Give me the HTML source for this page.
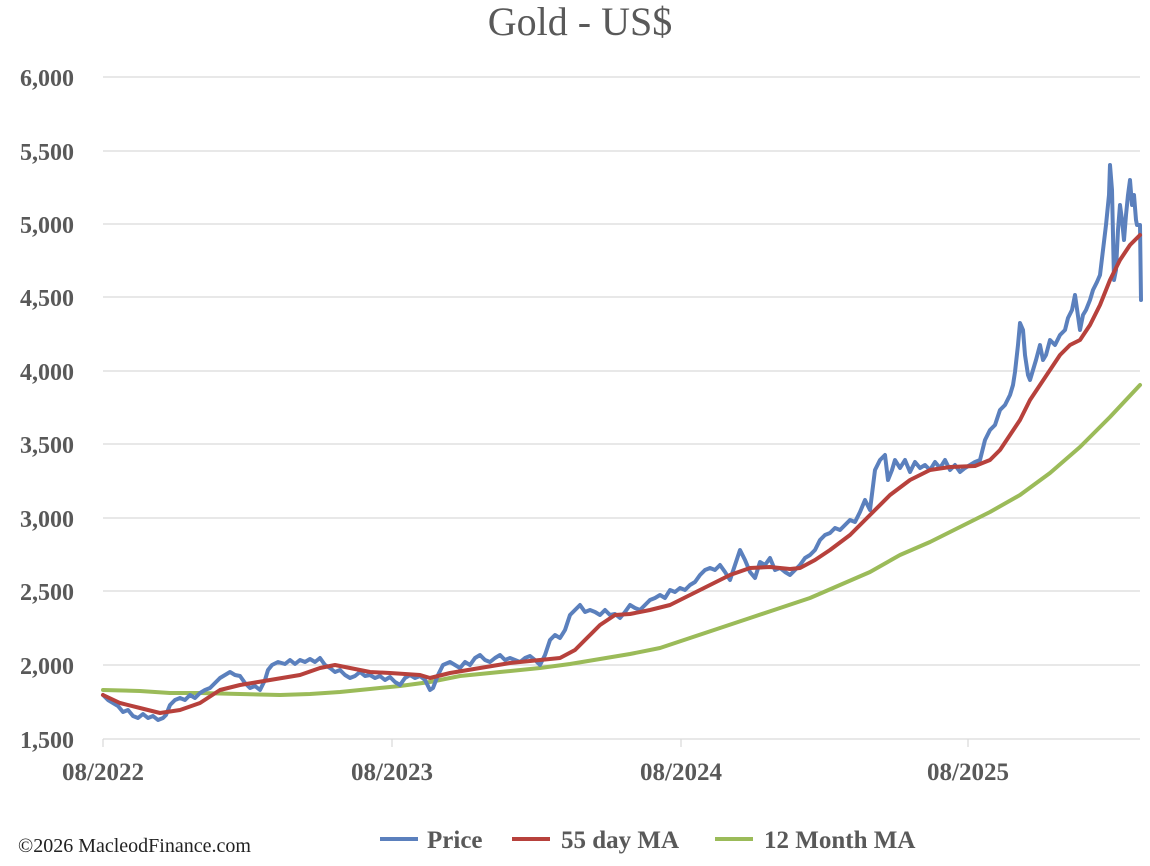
<!DOCTYPE html>
<html><head><meta charset="utf-8"><style>
html,body{margin:0;padding:0;background:#fff;}
svg{display:block;font-family:"Liberation Serif",serif;}
</style></head><body>
<svg width="1150" height="866" viewBox="0 0 1150 866" xmlns="http://www.w3.org/2000/svg">
<rect width="1150" height="866" fill="#fff"/>
<text x="580" y="35" font-size="40" fill="#595959" text-anchor="middle">Gold - US$</text>
<g stroke="#d9d9d9" stroke-width="1.2">
<line x1="103" x2="1140" y1="77" y2="77"/><line x1="103" x2="1140" y1="151" y2="151"/>
<line x1="103" x2="1140" y1="224" y2="224"/><line x1="103" x2="1140" y1="297" y2="297"/>
<line x1="103" x2="1140" y1="371" y2="371"/><line x1="103" x2="1140" y1="444" y2="444"/>
<line x1="103" x2="1140" y1="518" y2="518"/><line x1="103" x2="1140" y1="591" y2="591"/>
<line x1="103" x2="1140" y1="665" y2="665"/><line x1="103" x2="1140" y1="739" y2="739"/>
<line x1="103" x2="103" y1="739" y2="747"/><line x1="392" x2="392" y1="739" y2="747"/>
<line x1="681" x2="681" y1="739" y2="747"/><line x1="968" x2="968" y1="739" y2="747"/>
</g>
<g font-size="24" font-weight="bold" fill="#595959" text-anchor="end">
<text x="74" y="86">6,000</text><text x="74" y="160">5,500</text><text x="74" y="233">5,000</text>
<text x="74" y="306">4,500</text><text x="74" y="380">4,000</text><text x="74" y="453">3,500</text>
<text x="74" y="527">3,000</text><text x="74" y="600">2,500</text><text x="74" y="674">2,000</text>
<text x="74" y="748">1,500</text>
</g>
<g font-size="25" font-weight="bold" fill="#595959" text-anchor="middle">
<text x="103" y="780">08/2022</text><text x="392" y="780">08/2023</text>
<text x="681" y="780">08/2024</text><text x="968" y="780">08/2025</text>
</g>
<g fill="none" stroke-width="4" stroke-linejoin="round" stroke-linecap="round">
<polyline stroke="#9bbb59" points="103,690 140,691 170,693 200,693 240,694 280,695 310,694 340,692 370,689 400,686 430,682 460,676 500,672 540,668 570,664 600,659 630,654 660,648 690,638 720,628 750,618 780,608 810,598 840,585 870,572 900,555 930,542 960,527 990,512 1020,495 1050,473 1080,447 1110,417 1140,385"/>
<polyline stroke="#5b80bd" points="103,695 108,700 113,703 118,706 123,712 128,710 133,716 138,718 143,714 148,718 153,716 158,720 163,718 166,715 170,705 175,700 180,698 185,700 190,695 195,698 200,693 205,690 210,688 215,683 220,678 225,675 230,672 235,675 240,676 245,683 250,688 255,686 260,690 265,680 268,670 272,665 278,662 285,664 290,660 295,664 300,660 305,662 310,659 315,662 320,658 325,665 330,668 335,672 340,670 345,675 350,678 355,676 360,672 365,676 370,675 375,678 380,676 385,680 390,677 395,682 400,685 405,678 410,675 415,678 420,676 425,680 430,690 433,688 438,675 443,665 450,662 455,665 460,668 465,662 470,665 475,658 480,655 485,660 490,662 495,658 500,655 505,660 510,658 515,660 520,662 525,658 530,656 535,660 540,665 545,655 550,640 555,635 560,638 565,630 570,615 575,610 580,605 585,612 590,610 595,612 600,615 605,610 610,615 615,614 620,618 625,612 630,605 635,608 640,610 645,605 650,600 655,598 660,595 665,598 670,590 675,592 680,588 685,590 690,585 695,582 700,575 705,570 710,568 715,570 720,565 725,572 730,580 735,565 740,550 745,560 750,572 755,578 760,562 765,565 770,558 775,570 780,568 785,572 790,575 795,570 800,565 805,558 810,555 815,550 820,540 825,535 830,533 835,528 840,530 845,525 850,520 855,522 860,512 865,500 870,510 875,470 880,460 885,455 888,480 892,470 895,460 900,468 905,460 910,472 915,462 920,468 925,465 930,470 935,462 940,468 945,460 950,470 955,465 960,472 965,468 970,465 975,462 980,460 985,440 990,430 995,425 1000,410 1005,405 1010,395 1013,385 1015,372 1018,345 1020,323 1023,330 1025,355 1028,375 1030,380 1033,370 1036,360 1040,345 1043,360 1046,355 1050,340 1055,345 1060,335 1065,330 1068,318 1072,310 1075,295 1080,330 1083,315 1086,310 1090,300 1093,290 1097,282 1100,275 1103,250 1106,225 1109,195 1110,165 1112,190 1114,280 1116,270 1118,230 1120,205 1122,220 1124,240 1126,215 1128,195 1130,180 1132,205 1134,195 1136,220 1137,225 1140,225 1141,300"/>
<polyline stroke="#b7413c" points="103,695 120,703 140,708 160,713 180,710 200,703 220,690 240,685 270,680 300,675 320,668 335,665 350,668 370,672 390,673 420,675 430,678 450,673 480,668 510,663 540,660 560,658 575,650 590,635 600,625 615,615 630,614 650,610 670,605 690,595 710,585 730,575 750,568 770,567 790,569 800,568 815,560 830,550 850,535 870,515 890,495 910,480 930,470 950,467 975,466 990,460 1000,450 1010,435 1020,420 1030,400 1040,385 1050,370 1060,355 1070,345 1080,340 1090,325 1100,305 1110,280 1120,260 1130,245 1140,235"/>
</g>
<text x="18" y="852" font-size="20" fill="#222">©2026 MacleodFinance.com</text>
<g font-size="25" font-weight="bold" fill="#595959">
<line x1="380" x2="418" y1="839" y2="839" stroke="#5b80bd" stroke-width="4"/>
<text x="427" y="848">Price</text>
<line x1="512" x2="550" y1="839" y2="839" stroke="#b7413c" stroke-width="4"/>
<text x="561" y="848">55 day MA</text>
<line x1="715" x2="753" y1="839" y2="839" stroke="#9bbb59" stroke-width="4"/>
<text x="764" y="848">12 Month MA</text>
</g>
</svg>
</body></html>
